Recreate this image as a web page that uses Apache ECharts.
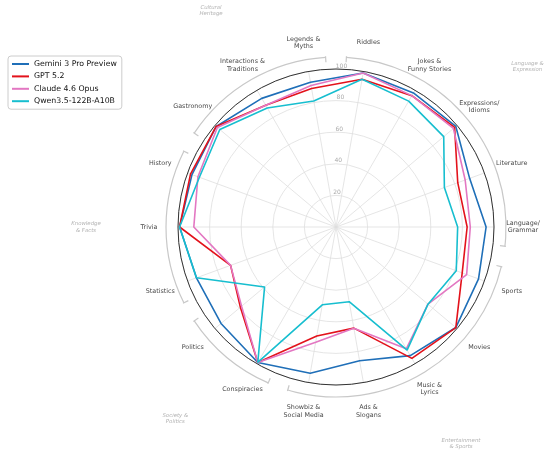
<!DOCTYPE html>
<html>
<head>
<meta charset="utf-8">
<script src="https://cdn.jsdelivr.net/npm/echarts@6/dist/echarts.min.js"></script>
<style>
    html, body { margin: 0; padding: 0; background: #fff; }
    #radarChart { width: 550px; height: 452px; }
</style>
</head>
<body>
<div id="radarChart"></div>
<script>
// categories, clockwise starting at Riddles
var categories = ['Riddles', 'Jokes &\nFunny Stories', 'Expressions/\nIdioms', 'Literature', 'Language/\nGrammar',
    'Sports', 'Movies', 'Music &\nLyrics', 'Ads &\nSlogans', 'Showbiz &\nSocial Media', 'Conspiracies',
    'Politics', 'Statistics', 'Trivia', 'History', 'Gastronomy', 'Interactions &\nTraditions', 'Legends &\nMyths'];

var modelNames = ['Gemini 3 Pro Preview', 'GPT 5.2', 'Claude 4.6 Opus', 'Qwen3.5-122B-A10B'];
var modelColors = ['#1f6fb8', '#e3121b', '#e377c2', '#17becf'];

var gemini = [99, 98, 99, 90, 95, 96, 99, 94, 86, 94, 99, 95, 94, 99, 97, 99, 94, 93];
var gpt = [95, 96, 98, 82, 83, 85, 99, 96, 65, 70, 99, 79, 71, 99, 98, 99, 89, 89];
var claude = [99, 96, 97, 87, 85, 88, 76, 89, 65, 74, 99, 78, 71, 90, 93, 98, 89, 91];
var qwen = [95, 92, 89, 73, 77, 81, 76, 90, 48, 50, 99, 59, 94, 99, 92, 96, 87, 81];

// groups of consecutive categories (clockwise from Riddles) and how many each holds
var groupNames = ['Language &\nExpression', 'Entertainment\n& Sports', 'Society &\nPolitics', 'Knowledge\n& Facts', 'Cultural\nHeritage'];
var groupSizes = [5, 5, 2, 3, 3];

var START = 80;      // angle of first category
var STEP = 360 / categories.length;
var font = 'DejaVu Sans';

function norm(a) { return ((a % 360) + 360) % 360; }

// main angle axis runs 0..360 clockwise from START, one step per category
var allSeries = [gemini, gpt, claude, qwen];
var lineSeries = allSeries.map(function (vals, k) {
    var pts = vals.map(function (v, i) { return [v, i * STEP]; });
    pts.push([vals[0], 360]);   // close the loop
    return {
        name: modelNames[k],
        type: 'line',
        coordinateSystem: 'polar',
        polarIndex: 0,
        data: pts,
        clip: false,
        symbol: 'none',
        lineStyle: { width: 1.6, color: modelColors[k] },
        itemStyle: { color: modelColors[k] },
        z: 5 + k
    };
});

// decoration polar uses pixel-like units (radius 250), angle in math degrees
var catLabelData = categories.map(function (c, i) {
    return { name: c, value: [187, norm(START - i * STEP)] };
});

var groupArcData = [];
var groupLabelData = [];
var idx = 0;
groupSizes.forEach(function (n, g) {
    var hi = START - idx * STEP + 6.5;
    var lo = START - (idx + n - 1) * STEP - 6.5;
    groupArcData.push([170, hi, lo]);
    groupLabelData.push({ name: groupNames[g], value: [250, norm((hi + lo) / 2)] });
    idx += n;
});

var dom = document.getElementById('radarChart');
var myChart = echarts.init(dom, null, { renderer: 'canvas' });

var option = {
    animation: false,
    legend: {
        data: modelNames.map(function (n) { return { name: n, icon: 'rect' }; }),
        orient: 'vertical',
        left: 8,
        top: 56,
        padding: [3.5, 5, 3.5, 4],
        itemWidth: 17,
        itemHeight: 2,
        itemGap: 3.4,
        borderColor: '#cccccc',
        borderWidth: 1,
        borderRadius: 3,
        textStyle: { fontFamily: font, fontSize: 7.8, lineHeight: 9, color: '#111' }
    },
    polar: [
        { center: [336, 227], radius: 158 },
        { center: [336, 227], radius: 250 },
        { center: [336, 227], radius: 158 }
    ],
    angleAxis: [
        {
            polarIndex: 0,
            type: 'value',
            min: 0,
            max: 360,
            interval: STEP,
            startAngle: START,
            axisLine: { show: true, lineStyle: { color: '#333', width: 1 } },
            axisTick: { show: false },
            axisLabel: { show: false },
            splitLine: { show: true, lineStyle: { color: '#dedede', width: 0.8 } },
            z: 3
        },
        {
            polarIndex: 1,
            type: 'value',
            min: 0,
            max: 360,
            startAngle: 0,
            clockwise: false,
            show: false
        },
        {
            polarIndex: 2,
            type: 'value',
            min: 0,
            max: 360,
            startAngle: 88,
            show: false
        }
    ],
    radiusAxis: [
        {
            polarIndex: 0,
            min: 0,
            max: 100,
            interval: 20,
            axisLine: { show: false },
            axisTick: { show: false },
            axisLabel: { show: false },
            splitLine: { show: true, lineStyle: { color: '#dedede', width: 0.8 } },
            z: 1
        },
        {
            polarIndex: 1,
            min: 0,
            max: 250,
            show: false
        },
        {
            polarIndex: 2,
            min: 0,
            max: 100,
            interval: 20,
            axisLine: { show: false },
            axisTick: { show: false },
            splitLine: { show: false },
            axisLabel: {
                show: true,
                showMinLabel: false,
                margin: 0,
                align: 'center',
                verticalAlign: 'bottom',
                color: '#aaaaaa',
                fontSize: 6,
                fontFamily: font
            },
            z: 4
        }
    ],
    series: lineSeries.concat([
        {
            type: 'scatter',
            coordinateSystem: 'polar',
            polarIndex: 1,
            data: catLabelData,
            symbolSize: 1,
            itemStyle: { color: 'transparent' },
            silent: true,
            label: {
                show: true,
                position: 'inside',
                formatter: '{b}',
                align: 'center',
                verticalAlign: 'middle',
                fontFamily: font,
                fontSize: 6.4,
                lineHeight: 7.6,
                color: '#111'
            }
        },
        {
            type: 'scatter',
            coordinateSystem: 'polar',
            polarIndex: 1,
            data: groupLabelData,
            symbolSize: 1,
            itemStyle: { color: 'transparent' },
            silent: true,
            label: {
                show: true,
                position: 'inside',
                formatter: '{b}',
                align: 'center',
                verticalAlign: 'middle',
                fontFamily: font,
                fontStyle: 'italic',
                fontSize: 5.4,
                lineHeight: 6.4,
                color: '#a0a0a0'
            }
        },
        {
            type: 'custom',
            coordinateSystem: 'polar',
            polarIndex: 1,
            data: groupArcData,
            silent: true,
            renderItem: function (params, api) {
                var cs = params.coordSys;
                var hi = api.value(1), lo = api.value(2);
                var r = cs.r * api.value(0) / 250;
                var t0a = api.coord([165, norm(hi)]), t0b = api.coord([171, norm(hi)]);
                var t1a = api.coord([165, norm(lo)]), t1b = api.coord([171, norm(lo)]);
                var st = { stroke: '#c8c8c8', lineWidth: 1.2, fill: null };
                return {
                    type: 'group',
                    children: [
                        {
                            type: 'arc',
                            shape: { cx: cs.cx, cy: cs.cy, r: r, startAngle: -hi * Math.PI / 180, endAngle: -lo * Math.PI / 180, clockwise: true },
                            style: st
                        },
                        { type: 'line', shape: { x1: t0a[0], y1: t0a[1], x2: t0b[0], y2: t0b[1] }, style: st },
                        { type: 'line', shape: { x1: t1a[0], y1: t1a[1], x2: t1b[0], y2: t1b[1] }, style: st }
                    ]
                };
            }
        }
    ])
};

myChart.setOption(option);
window.addEventListener('resize', myChart.resize);
</script>
</body>
</html>
